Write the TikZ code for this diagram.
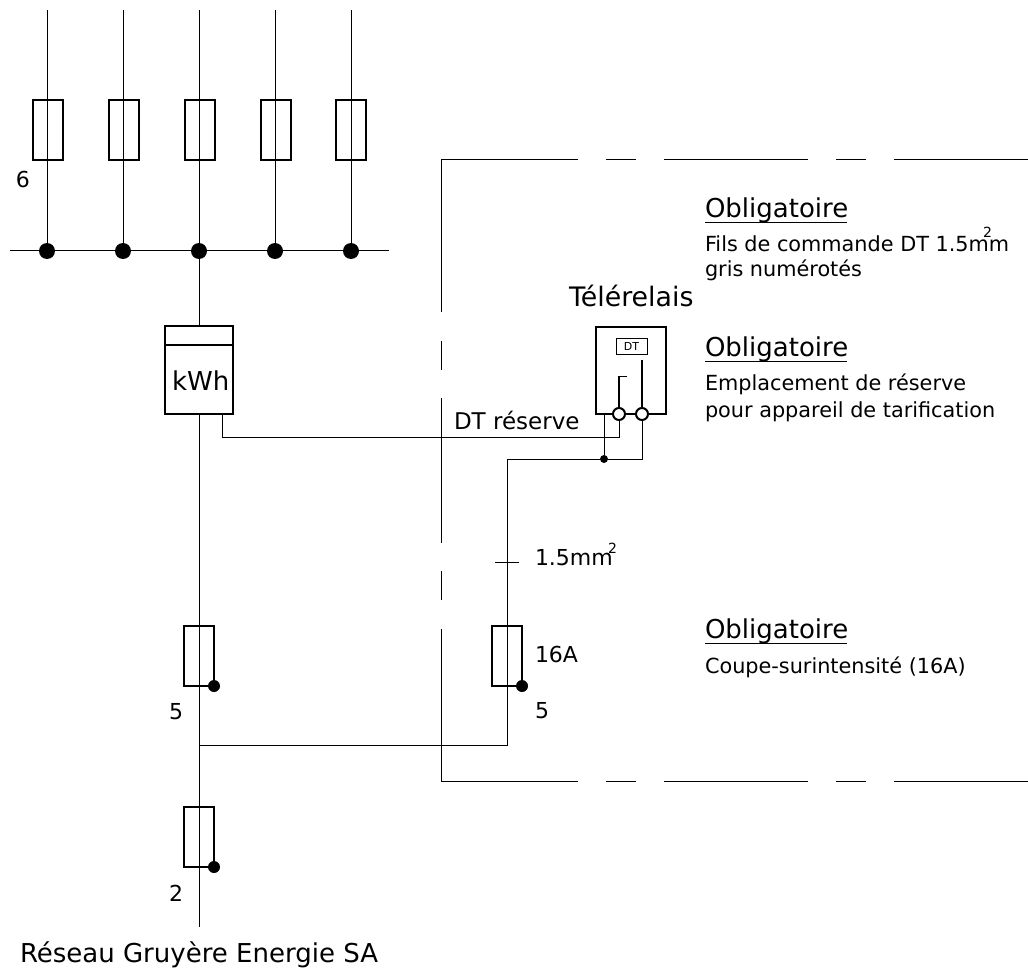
\documentclass[tikz,border=0pt]{standalone}
\usepackage{fontspec}
\setmainfont{DejaVu Sans}
\tikzset{
  x=1pt,y=-1pt,
  wire/.style={line width=1pt,draw=black},
  fuse/.style={draw=black,line width=2pt,fill=none,minimum width=30pt,minimum height=60pt,inner sep=0pt,outer sep=0pt},
  bigdot/.style={circle,fill=black,minimum size=16pt,inner sep=0pt,outer sep=0pt},
  middot/.style={circle,fill=black,minimum size=12pt,inner sep=0pt,outer sep=0pt},
  smalldot/.style={circle,fill=black,minimum size=8pt,inner sep=0pt,outer sep=0pt},
  term/.style={circle,draw=black,fill=white,line width=2pt,minimum size=12pt,inner sep=0pt,outer sep=0pt},
  thick box/.style={draw=black,line width=2pt},
  lbl/.style={anchor=base west,inner sep=0pt,outer sep=0pt,text=black},
  big/.style={lbl,font=\fontsize{26}{30}\selectfont},
  med/.style={lbl,font=\fontsize{22}{26}\selectfont},
  small/.style={lbl,font=\fontsize{20.8}{25}\selectfont},
  sup/.style={lbl,font=\fontsize{14}{16}\selectfont},
}
\begin{document}
\begin{tikzpicture}
\useasboundingbox (0,0) rectangle (1028,968);
\foreach \n/\xx/\fx in {a/47/48,b/123/123.5,c/199/199.5,d/275/275.5,e/351/350.5}{
  \coordinate (top\n) at (\xx,10);
  \node[bigdot] (bus\n) at (\xx,251) {};
  \node[fuse] (f\n) at (\fx,130) {};
  \draw[wire] (top\n) -- (bus\n);
}
\coordinate (busL) at (10,251);
\coordinate (busR) at (389,251);
\draw[wire] (busL) -- (busR);
% meter
\node[draw=black,line width=2pt,fill=white,minimum width=68pt,minimum height=88pt,inner sep=0pt,outer sep=0pt] (meter) at (199,370) {};
\coordinate (mdL) at (165,345);
\coordinate (mdR) at (233,345);
\draw[thick box] (mdL) -- (mdR);
\coordinate (bottom) at (199,927);
\node[fuse] (f1) at (199,655.5) {};
\node[fuse] (f0) at (199,837) {};
\node[fuse] (f2) at (507,655.5) {};
\node[middot] (d1) at (214,686) {};
\node[middot] (d0) at (214,867) {};
\node[middot] (d2) at (522,686) {};
\draw[wire] (busc) -- (meter.north);
\draw[wire] (meter.south) -- (bottom);
\coordinate (tap) at (199,745);
\coordinate (tapR) at (507,745);
\coordinate (tjL) at (507,459);
\draw[wire] (tap) -- (tapR) -- (tjL);
\coordinate (tk1) at (495,562);
\coordinate (tk2) at (519,562);
\draw[wire] (tk1) -- (tk2);
% telerelais
\node[draw=black,line width=2pt,minimum width=70pt,minimum height=87pt,inner sep=0pt,outer sep=0pt] (rel) at (631,370.5) {};
\node[draw=black,line width=.8pt,minimum width=31pt,minimum height=16pt,inner sep=0pt,outer sep=0pt,font=\fontsize{11}{13}\selectfont] (dt) at (631.5,346) {DT};
\node[term] (t1) at (619,414) {};
\node[term] (t2) at (642,414) {};
\node[smalldot] (j) at (604,459) {};
\coordinate (i1) at (619,376.5);
\coordinate (i1b) at (627,376.5);
\coordinate (i2) at (642,360);
\draw[thick box,line width=1.6pt] (t1) -- (i1) -- (i1b);
\draw[thick box,line width=1.6pt] (t2) -- (i2);
\coordinate (rb) at (604,414);
\draw[wire] (rb) -- (j);
\draw[wire] (tjL) -- (j);
\draw[wire] (j) -| (t2);
\coordinate (m1) at (222,414);
\coordinate (m2) at (222,437);
\draw[wire] (m1) -- (m2) -| (t1);
% dashed frame
\begin{scope}[line width=1pt]
\coordinate (ft1) at (441,160);
\coordinate (ft2) at (578,160);
\coordinate (fb1) at (441,781);
\coordinate (fb2) at (578,781);
\coordinate (fl1) at (441,312);
\draw (ft2) -- (ft1) -- (fl1);
\draw (fb2) -- (fb1) -- (441,629);
\foreach \yy in {160,781}{
  \draw (606,\yy) -- (636,\yy);
  \draw (664,\yy) -- (808,\yy);
  \draw (836,\yy) -- (866,\yy);
  \draw (894,\yy) -- (1028,\yy);
}
\draw (441,341) -- (441,370);
\draw (441,398) -- (441,543);
\draw (441,571) -- (441,600);
\end{scope}
% labels
\node[med] (l6) at (16,188) {6};
\node[big] (o1) at (705,218) {Obligatoire};
\coordinate (u1a) at (705,223); \coordinate (u1b) at (847,223);
\draw[line width=1pt] (u1a) -- (u1b);
\node[small] (t1a) at (705,252) {Fils de commande DT 1.5mm};
\node[small] (t1b) at (705,277) {gris numérotés};
\node[sup] (s1) at (983,238) {2};
\node[big,font=\fontsize{26.8}{30}\selectfont] (tr) at (569,306) {Télérelais};
\node[big] (o2) at (705,356.5) {Obligatoire};
\coordinate (u2a) at (705,361); \coordinate (u2b) at (847,361);
\draw[line width=1pt] (u2a) -- (u2b);
\node[small] (t2a) at (705,390) {Emplacement de réserve};
\node[small] (t2b) at (705,417) {pour appareil de tarification};
\node[big] (kwh) at (172,390) {kWh};
\node[lbl,font=\fontsize{23}{27}\selectfont] (res) at (454,429) {DT réserve};
\node[med] (mm) at (535,565) {1.5mm};
\node[sup] (s2) at (608,553) {2};
\node[med] (a16) at (535,662) {16A};
\node[big] (o3) at (705,638) {Obligatoire};
\coordinate (u3a) at (705,643); \coordinate (u3b) at (847,643);
\draw[line width=1pt] (u3a) -- (u3b);
\node[small] (t3) at (705,673) {Coupe-surintensité (16A)};
\node[med] (l5a) at (169,719) {5};
\node[med] (l5b) at (535,718) {5};
\node[med] (l2) at (169,901) {2};
\node[big] (net) at (20,962) {Réseau Gruyère Energie SA};
\end{tikzpicture}
\end{document}
